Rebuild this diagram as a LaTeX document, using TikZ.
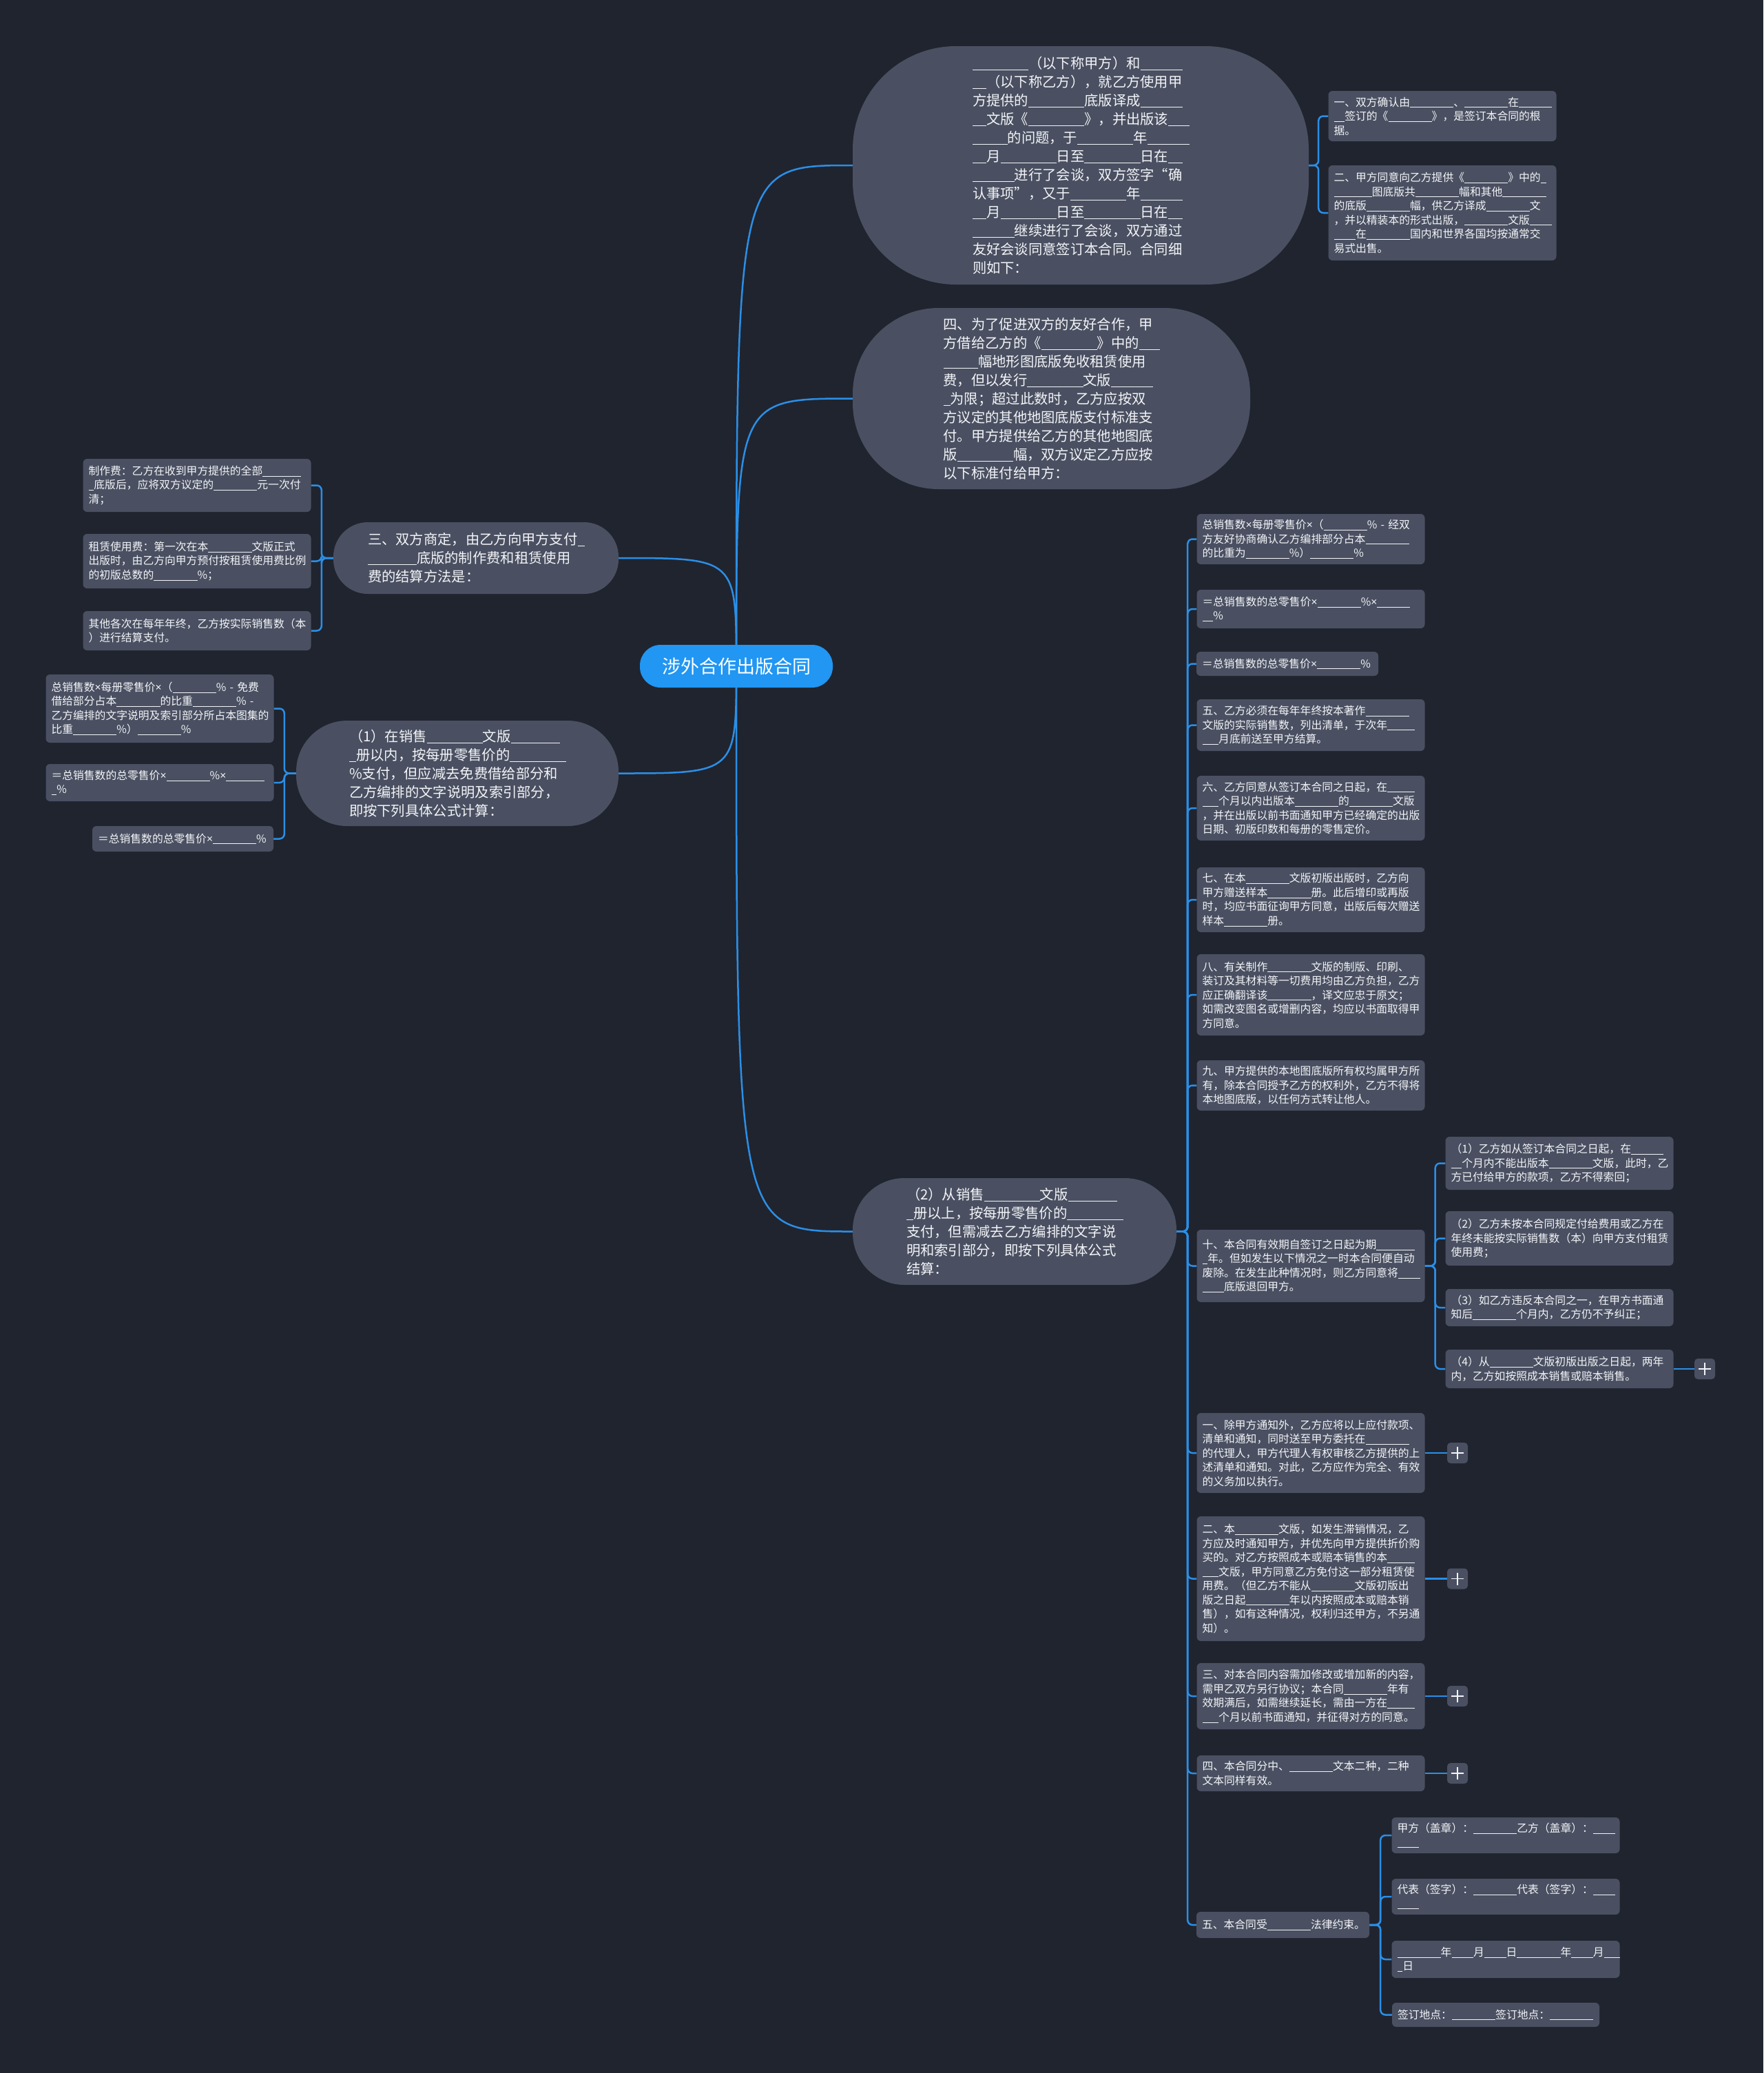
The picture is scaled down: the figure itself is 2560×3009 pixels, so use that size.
\documentclass[tikz,border=0pt]{standalone}
\usepackage{fontspec}
\setmainfont{Noto Sans CJK SC}
\newfontfamily\latinf{Noto Sans}
\usetikzlibrary{backgrounds}
\definecolor{bgc}{HTML}{20242F}
\definecolor{nodec}{HTML}{4A5061}
\definecolor{rootc}{HTML}{2196F3}
\definecolor{linkc}{HTML}{2B8FE6}
\definecolor{txtc}{HTML}{F2F4F8}
\newcommand\blk[1]{\rule[-0.13em]{\dimexpr#1em/2\relax}{0.06em}}
\newcommand\X{{\latinf ×}}
\tikzset{
  bubble/.style={fill=nodec, text=txtc, align=left, text width=314pt, inner xsep=0pt, inner ysep=4pt, font=\fontsize{20.3}{27}\selectfont},
  sbox/.style={fill=nodec, text=txtc, align=left, rounded corners=6pt, text width=315pt, inner xsep=8pt, inner ysep=3pt, font=\fontsize{15.8}{20.5}\selectfont},
  rootnode/.style={fill=rootc, text=white, rounded corners=30pt, minimum width=280pt, minimum height=62pt, font=\fontsize{27}{32}\selectfont},
  plusbox/.style={fill=nodec, rounded corners=5pt, minimum size=30pt, inner sep=0pt,
    path picture={\draw[txtc, line width=1.6pt] ([xshift=-9pt]path picture bounding box.center) -- ([xshift=9pt]path picture bounding box.center);
                  \draw[txtc, line width=1.6pt] ([yshift=-9pt]path picture bounding box.center) -- ([yshift=9pt]path picture bounding box.center);}},
  link/.style={draw=linkc, line width=2.5pt},
  brk/.style={link, rounded corners=7pt},
}
\begin{document}
\begin{tikzpicture}[x=1pt, y=-1pt]
\useasboundingbox (0,0) rectangle (2560,3009);

% root
\node[rootnode] (root) at (1069,967) {涉外合作出版合同};

% right ellipses
\node[bubble, rounded corners=150pt, minimum width=662pt, minimum height=346pt] (e1) at (1569,240)
{\blk8（以下称甲方）和\blk6\\ \blk2（以下称乙方），就乙方使用甲\\ 方提供的\blk8底版译成\blk6\\ \blk2文版《\blk8》，并出版该\blk3\\ \blk5的问题，于\blk8年\blk6\\ \blk2月\blk8日至\blk8日在\blk2\\ \blk6进行了会谈，双方签字“确\\ 认事项”，又于\blk8年\blk6\\ \blk2月\blk8日至\blk8日在\blk2\\ \blk6继续进行了会谈，双方通过\\ 友好会谈同意签订本合同。合同细\\ 则如下：};

\node[sbox, minimum height=73pt] (t1) at (2094,168.5)
{一、双方确认由\blk8、\blk8在\blk6\\ \blk2签订的《\blk8》，是签订本合同的根\\ 据。};
\node[sbox, minimum height=138pt] (t2) at (2094,309)
{二、甲方同意向乙方提供《\blk8》中的\blk1\\ \blk7图底版共\blk8幅和其他\blk8\\ 的底版\blk8幅，供乙方译成\blk8文\\ ，并以精装本的形式出版，\blk8文版\blk4\\ \blk4在\blk8国内和世界各国均按通常交\\ 易式出售。};

\node[bubble, rounded corners=125pt, minimum width=577pt, minimum height=263pt] (e2) at (1526.5,578.5)
{四、为了促进双方的友好合作，甲\\ 方借给乙方的《\blk8》中的\blk3\\ \blk5幅地形图底版免收租赁使用\\ 费，但以发行\blk8文版\blk6\\ \blk1为限；超过此数时，乙方应按双\\ 方议定的其他地图底版支付标准支\\ 付。甲方提供给乙方的其他地图底\\ 版\blk8幅，双方议定乙方应按\\ 以下标准付给甲方：};

% left ellipses
\node[bubble, rounded corners=50pt, minimum width=414pt, minimum height=104pt] (e3) at (691,810)
{三、双方商定，由乙方向甲方支付\blk1\\ \blk7底版的制作费和租赁使用\\ 费的结算方法是：};

\node[sbox, minimum height=77pt] (l1) at (286,704.5)
{制作费：乙方在收到甲方提供的全部\blk7\\ \blk1底版后，应将双方议定的\blk8元一次付\\ 清；};
\node[sbox, minimum height=79pt] (l2) at (286,814.5)
{租赁使用费：第一次在本\blk8文版正式\\ 出版时，由乙方向甲方预付按租赁使用费比例\\ 的初版总数的\blk8\%；};
\node[sbox, minimum height=57pt] (l3) at (286,915.5)
{其他各次在每年年终，乙方按实际销售数（本\\ ）进行结算支付。};

\node[bubble, rounded corners=74pt, minimum width=468pt, minimum height=153pt] (e4) at (664,1122.5)
{（1）在销售\blk8文版\blk7\\ \blk1册以内，按每册零售价的\blk8\\ \%支付，但应减去免费借给部分和\\ 乙方编排的文字说明及索引部分，\\ 即按下列具体公式计算：};

\node[sbox, minimum height=99pt] (m1) at (232,1028.5)
{总销售数\X 每册零售价\X（\blk8\%~-~免费\\ 借给部分占本\blk8的比重\blk8\%~-\\ 乙方编排的文字说明及索引部分所占本图集的\\ 比重\blk8\%）\blk8\%};
\node[sbox, minimum height=54pt] (m2) at (232,1136)
{＝总销售数的总零售价\X\blk8\%\X\blk7\\ \blk1\%};
\node[sbox, text width=247pt, minimum height=37pt] (m3) at (265.5,1217.5)
{＝总销售数的总零售价\X\blk8\%};

% (2) ellipse and its column
\node[bubble, rounded corners=75pt, minimum width=470pt, minimum height=155pt] (e5) at (1473,1787.5)
{（2）从销售\blk8文版\blk7\\ \blk1册以上，按每册零售价的\blk8\\ 支付，但需减去乙方编排的文字说\\ 明和索引部分，即按下列具体公式\\ 结算：};

\node[sbox, minimum height=73pt] (r1) at (1903,782.5)
{总销售数\X 每册零售价\X（\blk8\%~-~经双\\ 方友好协商确认乙方编排部分占本\blk8\\ 的比重为\blk8\%）\blk8\%};
\node[sbox, minimum height=56pt] (r2) at (1903,884)
{＝总销售数的总零售价\X\blk8\%\X\blk6\\ \blk2\%};
\node[sbox, text width=248pt, minimum height=35pt] (r3) at (1869,963.5)
{＝总销售数的总零售价\X\blk8\%};
\node[sbox, minimum height=75pt] (r4) at (1903,1052.5)
{五、乙方必须在每年年终按本著作\blk8\\ 文版的实际销售数，列出清单，于次年\blk5\\ \blk3月底前送至甲方结算。};
\node[sbox, minimum height=94pt] (r5) at (1903,1173)
{六、乙方同意从签订本合同之日起，在\blk5\\ \blk3个月以内出版本\blk8的\blk8文版\\ ，并在出版以前书面通知甲方已经确定的出版\\ 日期、初版印数和每册的零售定价。};
\node[sbox, minimum height=94pt] (r6) at (1903,1306)
{七、在本\blk8文版初版出版时，乙方向\\ 甲方赠送样本\blk8册。此后增印或再版\\ 时，均应书面征询甲方同意，出版后每次赠送\\ 样本\blk8册。};
\node[sbox, minimum height=118pt] (r7) at (1903,1444)
{八、有关制作\blk8文版的制版、印刷、\\ 装订及其材料等一切费用均由乙方负担，乙方\\ 应正确翻译该\blk8，译文应忠于原文；\\ 如需改变图名或增删内容，均应以书面取得甲\\ 方同意。};
\node[sbox, minimum height=73pt] (r8) at (1903,1575.5)
{九、甲方提供的本地图底版所有权均属甲方所\\ 有，除本合同授予乙方的权利外，乙方不得将\\ 本地图底版，以任何方式转让他人。};
\node[sbox, minimum height=105pt] (r9) at (1903,1837.5)
{十、本合同有效期自签订之日起为期\blk7\\ \blk1年。但如发生以下情况之一时本合同便自动\\ 废除。在发生此种情况时，则乙方同意将\blk4\\ \blk4底版退回甲方。};
\node[sbox, minimum height=116pt] (r10) at (1903,2109)
{一、除甲方通知外，乙方应将以上应付款项、\\ 清单和通知，同时送至甲方委托在\blk8\\ 的代理人，甲方代理人有权审核乙方提供的上\\ 述清单和通知。对此，乙方应作为完全、有效\\ 的义务加以执行。};
\node[sbox, minimum height=181pt] (r11) at (1903,2291.5)
{二、本\blk8文版，如发生滞销情况，乙\\ 方应及时通知甲方，并优先向甲方提供折价购\\ 买的。对乙方按照成本或赔本销售的本\blk5\\ \blk3文版，甲方同意乙方免付这一部分租赁使\\ 用费。（但乙方不能从\blk8文版初版出\\ 版之日起\blk8年以内按照成本或赔本销\\ 售），如有这种情况，权利归还甲方，不另通\\ 知）。};
\node[sbox, minimum height=96pt] (r12) at (1903,2462)
{三、对本合同内容需加修改或增加新的内容，\\ 需甲乙双方另行协议；本合同\blk8年有\\ 效期满后，如需继续延长，需由一方在\blk5\\ \blk3个月以前书面通知，并征得对方的同意。};
\node[sbox, minimum height=52pt] (r13) at (1903,2574)
{四、本合同分中、\blk8文本二种，二种\\ 文本同样有效。};
\node[sbox, text width=235pt, minimum height=38pt] (r14) at (1862.5,2794)
{五、本合同受\blk8法律约束。};

% children of ten
\node[sbox, minimum height=77pt] (c1) at (2264,1688.5)
{（1）乙方如从签订本合同之日起，在\blk6\\ \blk2个月内不能出版本\blk8文版，此时，乙\\ 方已付给甲方的款项，乙方不得索回；};
\node[sbox, minimum height=79pt] (c2) at (2264,1797.5)
{（2）乙方未按本合同规定付给费用或乙方在\\ 年终未能按实际销售数（本）向甲方支付租赁\\ 使用费；};
\node[sbox, minimum height=54pt] (c3) at (2264,1898)
{（3）如乙方违反本合同之一，在甲方书面通\\ 知后\blk8个月内，乙方仍不予纠正；};
\node[sbox, minimum height=56pt] (c4) at (2264,1987)
{（4）从\blk8文版初版出版之日起，两年\\ 内，乙方如按照成本销售或赔本销售。};

% children of five
\node[sbox, minimum height=52pt] (s1) at (2186,2664)
{甲方（盖章）：\blk8乙方（盖章）：\blk4\\ \blk4};
\node[sbox, minimum height=52pt] (s2) at (2186,2753)
{代表（签字）：\blk8代表（签字）：\blk4\\ \blk4};
\node[sbox, minimum height=54pt] (s3) at (2186,2844)
{\blk8年\blk4月\blk4日\blk8年\blk4月\blk3\\ \blk1日};
\node[sbox, text width=285pt, minimum height=35pt] (s4) at (2171.5,2924.5)
{签订地点：\blk8签订地点：\blk8};

% collapse markers
\node[plusbox] (p4) at (2475,1987) {};
\node[plusbox] (p10) at (2116,2109) {};
\node[plusbox] (p11) at (2116,2291.5) {};
\node[plusbox] (p12) at (2116,2462) {};
\node[plusbox] (p13) at (2116,2574) {};

\begin{pgfonlayer}{background}
\fill[bgc] (0,0) rectangle (2560,3009);
% root links
\draw[link] (root.center) .. controls (1069,240) .. (e1.west);
\draw[link] (root.center) .. controls (1069,578.5) .. (e2.west);
\draw[link] (root.center) .. controls (1069,1787.5) .. (e5.west);
\draw[link] (root.center) .. controls (1069,810) .. (e3.east);
\draw[link] (root.center) .. controls (1069,1122.5) .. (e4.east);
% e1 children
\foreach \c in {t1,t2} \draw[brk] (e1.east) -- ++(14,0) |- (\c.west);
% e3 children
\foreach \c in {l1,l2,l3} \draw[brk] (e3.west) -- ++(-17,0) |- (\c.east);
% e4 children
\foreach \c in {m1,m2,m3} \draw[brk] (e4.west) -- ++(-17,0) |- (\c.east);
% e5 children
\foreach \c in {r1,r2,r3,r4,r5,r6,r7,r8,r9,r10,r11,r12,r13,r14} \draw[brk] (e5.east) -- ++(16,0) |- (\c.west);
% ten children
\foreach \c in {c1,c2,c3,c4} \draw[brk] (r9.east) -- ++(15,0) |- (\c.west);
% five children
\foreach \c in {s1,s2,s3,s4} \draw[brk] (r14.east) -- ++(16,0) |- (\c.west);
% plus links
\draw[link] (c4.east) -- (p4.west);
\draw[link] (r10.east) -- (p10.west);
\draw[link] (r11.east) -- (p11.west);
\draw[link] (r12.east) -- (p12.west);
\draw[link] (r13.east) -- (p13.west);
\end{pgfonlayer}
\end{tikzpicture}
\end{document}
